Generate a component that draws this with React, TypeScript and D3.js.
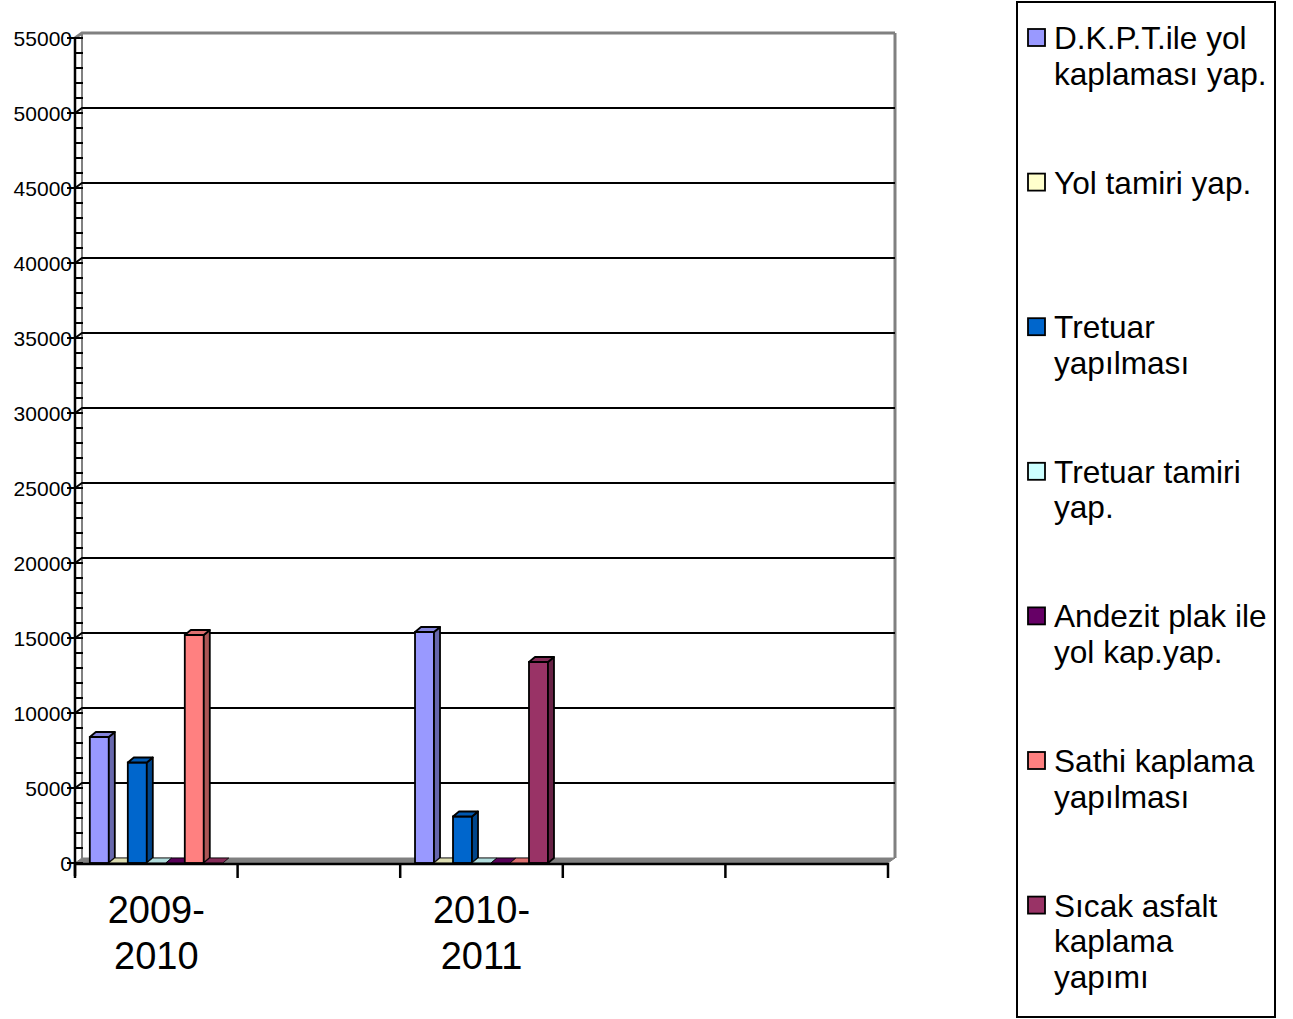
import { useEffect, useRef } from 'react';
import * as d3 from 'd3';

const categories = ['2009-2010', 'empty1', '2010-2011', 'empty2', 'empty3'];
const categoryLabels: string[][] = [['2009-', '2010'], [], ['2010-', '2011'], [], []];
const dataCategories = ['2009-2010', '2010-2011'];

const seriesNames = [
  'D.K.P.T.ile yol kaplaması yap.',
  'Yol tamiri yap.',
  'Tretuar yapılması',
  'Tretuar tamiri yap.',
  'Andezit plak ile yol kap.yap.',
  'Sathi kaplama yapılması',
  'Sıcak asfalt kaplama yapımı',
];
const legendLines: string[][] = [
  ['D.K.P.T.ile yol', 'kaplaması yap.'],
  ['Yol tamiri yap.'],
  ['Tretuar', 'yapılması'],
  ['Tretuar tamiri', 'yap.'],
  ['Andezit plak ile', 'yol kap.yap.'],
  ['Sathi kaplama', 'yapılması'],
  ['Sıcak asfalt', 'kaplama', 'yapımı'],
];
const seriesColors = ['#9999FF', '#FFFFCC', '#0066CC', '#CCFFFF', '#660066', '#FF8080', '#993366'];

// values per series, one per data category (2009-2010, 2010-2011)
const dkpt = [8400, 15400];
const yolTamiri = [0, 0];
const tretuar = [6700, 3100];
const tretuarTamiri = [0, 0];
const andezit = [0, 0];
const sathi = [15200, 0];
const sicak = [0, 13400];
const seriesValues = [dkpt, yolTamiri, tretuar, tretuarTamiri, andezit, sathi, sicak];

const yTicks = d3.range(0, 55001, 5000);
const yMinor = d3.range(0, 55001, 1000);

export default function App() {
  const svgRef = useRef<SVGSVGElement>(null);

  useEffect(() => {
    if (!svgRef.current) return;
    const svg = d3.select(svgRef.current);
    svg.selectAll('*').remove();

    const font = 'Liberation Sans, Arial, sans-serif';
    const left = 75;
    const right = 888;
    const depthX = 7;
    const depthY = -5;

    const y = d3.scaleLinear().domain([0, 55000]).range([863, 38]);
    const x0 = d3.scaleBand<string>().domain(categories).range([left, right]);
    const x1 = d3.scaleBand<string>()
      .domain(seriesNames)
      .range([0, x0.bandwidth()])
      .paddingInner(0)
      .paddingOuter(0.78);

    const bx = left + depthX;
    const bRight = right + depthX;
    const top = y(55000) + depthY;
    const floorY = y(0) + depthY;

    // floor
    svg.append('polygon')
      .attr('points', `${left},${y(0)} ${bx},${floorY} ${bRight},${floorY} ${right},${y(0)}`)
      .attr('fill', '#808080')
      .attr('stroke', '#808080')
      .attr('stroke-width', 1);

    // walls
    svg.append('line')
      .attr('x1', bx).attr('x2', bx).attr('y1', top).attr('y2', floorY)
      .attr('stroke', '#808080').attr('stroke-width', 2);
    svg.append('line')
      .attr('x1', bRight).attr('x2', bRight).attr('y1', top).attr('y2', floorY)
      .attr('stroke', '#808080').attr('stroke-width', 3);
    svg.append('polyline')
      .attr('points', `${left},${y(55000)} ${bx},${top} ${bRight},${top}`)
      .attr('fill', 'none')
      .attr('stroke', '#808080').attr('stroke-width', 3);

    // gridlines
    yTicks.filter(t => t > 0 && t < 55000).forEach(t => {
      svg.append('polyline')
        .attr('points', `${left},${y(t)} ${bx},${y(t) + depthY} ${bRight},${y(t) + depthY}`)
        .attr('fill', 'none')
        .attr('stroke', '#000').attr('stroke-width', 2);
    });

    // bars
    const bw = x1.bandwidth();
    const dx = 6;
    const dy = -5;
    dataCategories.forEach((cat, ci) => {
      seriesNames.forEach((s, si) => {
        const v = seriesValues[si][ci];
        const c = d3.color(seriesColors[si])!;
        const xl = x0(cat)! + x1(s)!;
        const yt = y(v);
        const yb = y(0);
        const g = svg.append('g');
        if (v > 0) {
          g.append('rect')
            .attr('x', xl).attr('y', yt).attr('width', bw).attr('height', yb - yt)
            .attr('fill', c.formatHex()).attr('stroke', '#000').attr('stroke-width', 1.8);
          g.append('polygon')
            .attr('points', `${xl + bw},${yt} ${xl + bw + dx},${yt + dy} ${xl + bw + dx},${yb + dy} ${xl + bw},${yb}`)
            .attr('fill', c.darker(1.1).formatHex()).attr('stroke', '#000').attr('stroke-width', 1.8)
            .attr('stroke-linejoin', 'round');
        }
        g.append('polygon')
          .attr('points', `${xl},${yt} ${xl + dx},${yt + dy} ${xl + bw + dx},${yt + dy} ${xl + bw},${yt}`)
          .attr('fill', c.darker(0.4).formatHex()).attr('stroke', '#000').attr('stroke-width', v > 0 ? 1.8 : 0.8)
          .attr('stroke-linejoin', 'round');
      });
    });

    // value axis
    svg.append('line')
      .attr('x1', left).attr('x2', left).attr('y1', y(55000)).attr('y2', y(0) + 13)
      .attr('stroke', '#000').attr('stroke-width', 2.5);
    yMinor.forEach(t => {
      svg.append('line')
        .attr('x1', left).attr('x2', left + 8).attr('y1', y(t)).attr('y2', y(t))
        .attr('stroke', '#000').attr('stroke-width', 2);
    });
    yTicks.forEach(t => {
      svg.append('line')
        .attr('x1', left - 8).attr('x2', left).attr('y1', y(t)).attr('y2', y(t))
        .attr('stroke', '#000').attr('stroke-width', 2);
      svg.append('text')
        .attr('x', left - 3).attr('y', y(t)).attr('dy', '0.36em')
        .attr('text-anchor', 'end')
        .attr('font-family', font).attr('font-size', 21)
        .text(t);
    });

    // category axis
    svg.append('line')
      .attr('x1', left).attr('x2', right).attr('y1', y(0) + 1).attr('y2', y(0) + 1)
      .attr('stroke', '#000').attr('stroke-width', 2.5);
    [...categories.map(c => x0(c)!), right].forEach(xv => {
      svg.append('line')
        .attr('x1', xv).attr('x2', xv).attr('y1', y(0)).attr('y2', y(0) + 15)
        .attr('stroke', '#000').attr('stroke-width', 2.5);
    });
    categories.forEach((cat, ci) => {
      const cx = x0(cat)! + x0.bandwidth() / 2;
      categoryLabels[ci].forEach((line, li) => {
        svg.append('text')
          .attr('x', cx).attr('y', 923 + li * 46)
          .attr('text-anchor', 'middle')
          .attr('font-family', font).attr('font-size', 38)
          .text(line);
      });
    });

    // legend
    svg.append('rect')
      .attr('x', 1017).attr('y', 2).attr('width', 258).attr('height', 1015)
      .attr('fill', 'none').attr('stroke', '#000').attr('stroke-width', 2);
    legendLines.forEach((lines, i) => {
      const cy = 38 + i * 144.6;
      svg.append('rect')
        .attr('x', 1028).attr('y', cy - 9).attr('width', 17).attr('height', 17)
        .attr('fill', seriesColors[i]).attr('stroke', '#000').attr('stroke-width', 1.8);
      lines.forEach((line, li) => {
        svg.append('text')
          .attr('x', 1054).attr('y', cy + 11 + li * 35.5)
          .attr('font-family', font).attr('font-size', 31.6)
          .text(line);
      });
    });
  }, []);

  return (
    <div style={{ position: 'absolute', left: 0, top: 0 }}>
      <svg ref={svgRef} width={1293} height={1019} style={{ display: 'block', background: '#fff' }} />
    </div>
  );
}
